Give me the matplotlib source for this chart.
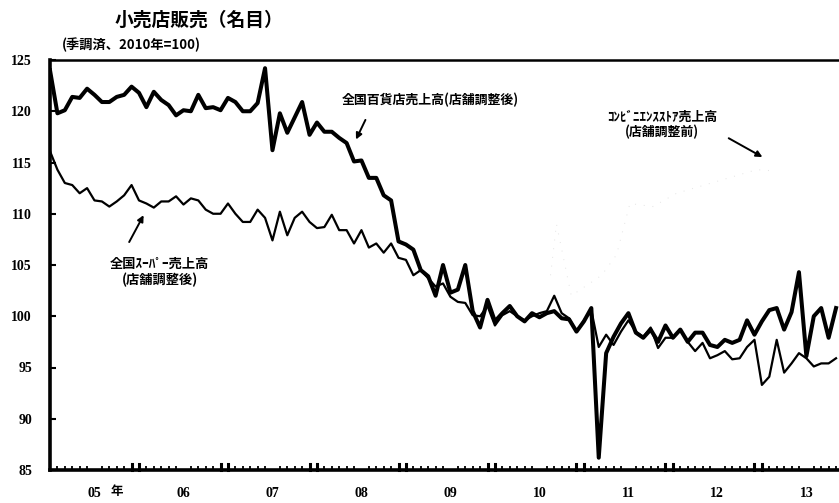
import numpy as np
import matplotlib
matplotlib.use("Agg")
import matplotlib.pyplot as plt

plt.rcParams['font.family'] = ['Noto Sans CJK JP', 'DejaVu Sans']

# monthly index, Jan 2005 = 0
depart = [124.0, 119.8, 120.1, 121.4, 121.3, 122.2, 121.6, 120.9, 120.9, 121.4,
          121.6, 122.4, 121.8, 120.4, 121.9, 121.1, 120.6, 119.6, 120.1, 120.0,
          121.6, 120.3, 120.4, 120.1, 121.3, 120.9, 120.0, 120.0, 120.8, 124.2,
          116.2, 119.8, 117.9, 119.4, 120.9, 117.7, 118.9, 118.0, 118.0, 117.4,
          116.9, 115.1, 115.2, 113.5, 113.5, 111.8, 111.3, 107.3, 107.0, 106.5,
          104.5, 103.9, 102.0, 105.0, 102.3, 102.6, 105.0, 100.5, 98.9, 101.6,
          99.5, 100.3, 101.0, 100.0, 99.5, 100.3, 99.9, 100.3, 100.5, 99.8,
          99.7, 98.5, 99.5, 100.8, 86.2, 96.4, 98.0, 99.3, 100.3, 98.4,
          97.9, 98.7, 97.5, 99.1, 97.9, 98.7, 97.5, 98.4, 98.4, 97.2,
          97.0, 97.7, 97.4, 97.7, 99.6, 98.2, 99.5, 100.6, 100.8, 98.7,
          100.4, 104.3, 96.1, 100.0, 100.8, 97.9, 100.8]

super_ = [116.1, 114.3, 113.0, 112.8, 112.0, 112.5, 111.3, 111.2, 110.7, 111.2,
          111.8, 112.8, 111.3, 111.0, 110.6, 111.2, 111.2, 111.7, 110.9, 111.5,
          111.3, 110.4, 110.0, 110.0, 111.0, 110.0, 109.2, 109.2, 110.4, 109.6,
          107.4, 110.2, 107.9, 109.6, 110.2, 109.2, 108.6, 108.7, 109.9, 108.4,
          108.4, 107.1, 108.4, 106.7, 107.1, 106.2, 107.1, 105.7, 105.5, 104.0,
          104.5, 103.7, 102.9, 103.2, 101.9, 101.4, 101.3, 100.1, 100.0, 101.0,
          99.1, 100.1, 100.5, 100.0, 99.6, 100.0, 100.3, 100.5, 102.0, 100.3,
          99.8, 98.5, 99.6, 100.6, 97.0, 98.2, 97.2, 98.5, 99.6, 98.5,
          98.0, 98.9, 96.9, 97.9, 97.9, 98.7, 97.5, 96.6, 97.4, 95.9,
          96.2, 96.6, 95.8, 95.9, 97.0, 97.7, 93.3, 94.1, 97.7, 94.5,
          95.4, 96.4, 95.9, 95.1, 95.4, 95.4, 95.9]

# convenience stores: almost lost in the scan, only faint dots remain
conv_idx = [67.5, 68.3, 70.3, 74.4, 76.4, 78.2, 81.3, 84.5, 95.3, 97.3]
conv = [104.0, 109.0, 102.0, 104.0, 106.0, 111.0, 110.7, 112.0, 114.3, 114.2]

year_labels = ['05', '06', '07', '08', '09', '10', '11', '12', '13']
yticks = [85, 90, 95, 100, 105, 110, 115, 120, 125]

months = np.arange(len(depart))

fig = plt.figure(figsize=(8.39, 5.03), dpi=100)
ax = fig.add_axes([50 / 839, 33 / 503, 789 / 839, 410 / 503])

ax.plot(months, super_, color='black', lw=1.6, zorder=3)
ax.plot(months, depart, color='black', lw=2.9, zorder=4)
ax.plot(conv_idx, conv, color='#e4e4e4', lw=0.7, ls=(0, (1, 8)), zorder=2)

ax.set_xlim(0, 106.4)
ax.set_ylim(85, 125)

for s in ['left', 'bottom']:
    ax.spines[s].set_linewidth(2.6)
ax.spines['top'].set_linewidth(1.8)
ax.spines['right'].set_visible(False)

num_font = dict(family='Liberation Serif', weight='bold', size=10)

ax.set_yticks(yticks)
ax.set_yticklabels([str(v) for v in yticks], **num_font)
ax.tick_params(axis='y', direction='in', length=4, width=1.5, pad=13)

# year labels under the middle of each year, small inward ticks every month
ax.set_xticks([6 + 12 * i for i in range(len(year_labels))])
ax.set_xticklabels(year_labels, **num_font)
ax.tick_params(axis='x', which='major', length=0, pad=12)
ax.set_xticks(list(months), minor=True)
ax.tick_params(axis='x', which='minor', direction='in', length=3, width=1.3)
for k in range(8):
    for m in (11 + 12 * k, 12 + 12 * k):
        ax.plot([m, m], [85, 85.6], color='black', lw=2.2, clip_on=False, zorder=5)
ax.text(9.0, 82.9, '年', ha='center', va='center', fontsize=9, fontweight='bold')

fig.text(115 / 839, 1 - 20 / 503, '小売店販売（名目）', fontsize=13.5,
         fontweight='bold', va='center', ha='left')
fig.text(62 / 839, 1 - 45 / 503, '(季調済、2010年=100)', fontsize=9.5,
         fontweight='bold', va='center', ha='left')

arrow = dict(arrowstyle='-|>', color='black', lw=1.4, mutation_scale=9)

ax.text(51.3, 121.1, '全国百貨店売上高(店舗調整後)', fontsize=9.3,
        fontweight='bold', ha='center', va='center')
ax.annotate('', xy=(41.1, 117.0), xytext=(42.7, 119.4), arrowprops=arrow)

ax.text(14.8, 104.3, '全国ｽｰﾊﾟｰ売上高\n(店舗調整後)', fontsize=9.5,
        fontweight='bold', ha='center', va='center', linespacing=1.15)
ax.annotate('', xy=(12.8, 110.1), xytext=(10.5, 107.0), arrowprops=arrow)

ax.text(82.5, 118.7, 'ｺﾝﾋﾞﾆｴﾝｽｽﾄｱ売上高\n(店舗調整前)', fontsize=9.3,
        fontweight='bold', ha='center', va='center', linespacing=1.1)
ax.annotate('', xy=(96.4, 115.4), xytext=(91.2, 117.5), arrowprops=arrow)

fig.savefig('out.png', dpi=100)
